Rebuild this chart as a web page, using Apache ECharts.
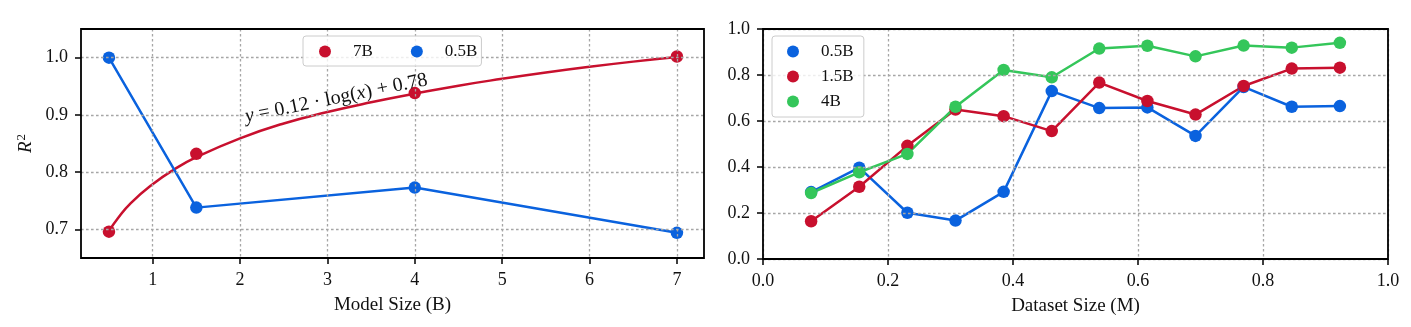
<!DOCTYPE html>
<html>
<head>
<meta charset="utf-8">
<script src="https://cdn.jsdelivr.net/npm/echarts@6/dist/echarts.min.js"></script>
<style>
html,body{margin:0;padding:0;background:#fff;}
#chart{width:1411px;height:327px;}
</style>
</head>
<body>
<div id="chart"></div>
<script>
// ---- Left panel data (Model Size vs R^2) ----
const modelSizes = [0.5, 1.5, 4, 7];
const r2_7B = [0.696, 0.832, 0.938, 1.002];
const r2_05B = [1.0, 0.738, 0.773, 0.694];
// fitted curve
const fitX = [0.5, 0.6, 0.75, 1.0, 1.25, 1.5, 2.0, 2.5, 3.0, 3.5, 4.0, 4.5, 5.0, 5.5, 6.0, 6.5, 7.0];
const fitY = [0.697, 0.719, 0.746, 0.779, 0.805, 0.826, 0.859, 0.885, 0.905, 0.922, 0.937, 0.951, 0.963, 0.974, 0.984, 0.993, 1.001];
const leftXTicks = [1, 2, 3, 4, 5, 6, 7];
const leftYTicks = [0.7, 0.8, 0.9, 1.0];
const fitLabel = '{i|y}{u| = 0.12 · log(}{i|x}{u|) + 0.78}';

// ---- Right panel data (Dataset Size vs R^2) ----
const datasetSizes = [0.077, 0.154, 0.231, 0.308, 0.385, 0.462, 0.538, 0.615, 0.692, 0.769, 0.846, 0.923];
const ds_05B = [0.291, 0.397, 0.201, 0.167, 0.292, 0.730, 0.656, 0.659, 0.535, 0.748, 0.662, 0.665];
const ds_15B = [0.164, 0.314, 0.492, 0.650, 0.621, 0.556, 0.767, 0.687, 0.628, 0.752, 0.828, 0.832];
const ds_4B  = [0.287, 0.377, 0.457, 0.662, 0.822, 0.790, 0.915, 0.927, 0.881, 0.928, 0.919, 0.940];

const RED = '#C8102E', BLUE = '#0A62DE', GREEN = '#34C65A';
const FONT = 'Liberation Serif';
const TXT = '#111';

const zip = (xs, ys) => xs.map((x, i) => [x, ys[i]]);

const gridLine = { show: true, lineStyle: { color: '#a6a6a6', width: 1.3, type: [2.6, 2.4] } };
const tick = { show: true, inside: false, length: 6, lineStyle: { color: '#000', width: 1.5 } };
const label = { color: TXT, fontFamily: FONT, fontSize: 18, margin: 13 };

const legendCommon = {
  icon: 'circle', itemWidth: 12, itemHeight: 12,
  backgroundColor: 'rgba(255,255,255,0.8)', borderColor: '#cccccc', borderWidth: 1, borderRadius: 3,
  formatter: '{t|{name}}',
  textStyle: { color: TXT, fontFamily: FONT, fontSize: 17, lineHeight: 14,
    rich: { t: { color: TXT, fontFamily: FONT, fontSize: 17, lineHeight: 14, padding: [0, 0, 0, 17] } } }
};

const option = {
  animation: false,
  backgroundColor: '#fff',
  grid: [
    { left: 81, top: 29, width: 623, height: 229, show: true, borderColor: '#000', borderWidth: 1.8, backgroundColor: 'transparent', containLabel: false, z: 6 },
    { left: 763, top: 29, width: 625, height: 230, show: true, borderColor: '#000', borderWidth: 1.8, backgroundColor: 'transparent', containLabel: false, z: 6 }
  ],
  xAxis: [
    { gridIndex: 0, type: 'value', min: 0.18, max: 7.31, z: 3,
      axisLine: { show: false }, axisTick: Object.assign({ customValues: leftXTicks }, tick),
      axisLabel: Object.assign({ customValues: leftXTicks, formatter: v => String(Math.round(v)) }, label),
      splitLine: gridLine,
      name: 'Model Size (B)', nameLocation: 'middle', nameGap: 38,
      nameTextStyle: { color: TXT, fontFamily: FONT, fontSize: 19 } },
    { gridIndex: 1, type: 'value', min: 0, max: 1, interval: 0.2, z: 3,
      axisLine: { show: false }, axisTick: tick,
      axisLabel: Object.assign({ formatter: v => v.toFixed(1) }, label),
      splitLine: gridLine,
      name: 'Dataset Size (M)', nameLocation: 'middle', nameGap: 38,
      nameTextStyle: { color: TXT, fontFamily: FONT, fontSize: 19 } }
  ],
  yAxis: [
    { gridIndex: 0, type: 'value', min: 0.65, max: 1.05, z: 3,
      axisLine: { show: false }, axisTick: Object.assign({ customValues: leftYTicks }, tick),
      axisLabel: Object.assign({ customValues: leftYTicks, formatter: v => v.toFixed(1) }, label),
      splitLine: gridLine,
      name: '{i|R}{s|2}', nameLocation: 'middle', nameGap: 46, nameRotate: 90,
      nameTextStyle: { color: TXT, fontFamily: FONT, fontSize: 19,
        rich: { i: { fontFamily: FONT, fontSize: 19, fontStyle: 'italic', color: TXT, verticalAlign: 'bottom', lineHeight: 20 },
                s: { fontFamily: FONT, fontSize: 13, color: TXT, verticalAlign: 'top', lineHeight: 20, padding: [0, 0, 0, 1] } } } },
    { gridIndex: 1, type: 'value', min: 0, max: 1, interval: 0.2, z: 3,
      axisLine: { show: false }, axisTick: tick,
      axisLabel: Object.assign({ formatter: v => v.toFixed(1) }, label),
      splitLine: gridLine }
  ],
  legend: [
    Object.assign({ data: ['7B', '0.5B'], orient: 'horizontal', left: 303, top: 36, padding: [7, 4, 6, 16], itemGap: 38 }, legendCommon),
    Object.assign({ data: ['0.5B ', '1.5B', '4B'], orient: 'vertical', left: 772, top: 36, padding: [7, 6, 7, 15], itemGap: 8 }, legendCommon)
  ],
  series: [
    { name: '7B fit', type: 'line', xAxisIndex: 0, yAxisIndex: 0, data: zip(fitX, fitY), smooth: true,
      showSymbol: false, symbol: 'none', lineStyle: { color: RED, width: 2.5 }, itemStyle: { color: RED }, z: 2,
      markPoint: { symbol: 'circle', symbolSize: 1, itemStyle: { color: 'rgba(0,0,0,0)' },
        label: { show: true, position: 'inside', rotate: 11.5, formatter: fitLabel,
          rich: { i: { fontFamily: FONT, fontStyle: 'italic', fontSize: 20, color: TXT },
                  u: { fontFamily: FONT, fontSize: 20, color: TXT } } },
        data: [{ coord: [3.1, 0.929] }] } },
    { name: '7B', type: 'scatter', xAxisIndex: 0, yAxisIndex: 0, data: zip(modelSizes, r2_7B),
      symbol: 'circle', symbolSize: 12.5, itemStyle: { color: RED, opacity: 1 }, z: 2 },
    { name: '0.5B', type: 'line', xAxisIndex: 0, yAxisIndex: 0, data: zip(modelSizes, r2_05B),
      symbol: 'circle', symbolSize: 12.5, showSymbol: true, lineStyle: { color: BLUE, width: 2.5 }, itemStyle: { color: BLUE }, z: 2 },

    { name: '0.5B ', type: 'line', xAxisIndex: 1, yAxisIndex: 1, data: zip(datasetSizes, ds_05B),
      symbol: 'circle', symbolSize: 12.5, lineStyle: { color: BLUE, width: 2.5 }, itemStyle: { color: BLUE }, z: 2 },
    { name: '1.5B', type: 'line', xAxisIndex: 1, yAxisIndex: 1, data: zip(datasetSizes, ds_15B),
      symbol: 'circle', symbolSize: 12.5, lineStyle: { color: RED, width: 2.5 }, itemStyle: { color: RED }, z: 2 },
    { name: '4B', type: 'line', xAxisIndex: 1, yAxisIndex: 1, data: zip(datasetSizes, ds_4B),
      symbol: 'circle', symbolSize: 12.5, lineStyle: { color: GREEN, width: 2.5 }, itemStyle: { color: GREEN }, z: 2 }
  ]
};

const chart = echarts.init(document.getElementById('chart'), null, { renderer: 'canvas' });
chart.setOption(option);
</script>
</body>
</html>
